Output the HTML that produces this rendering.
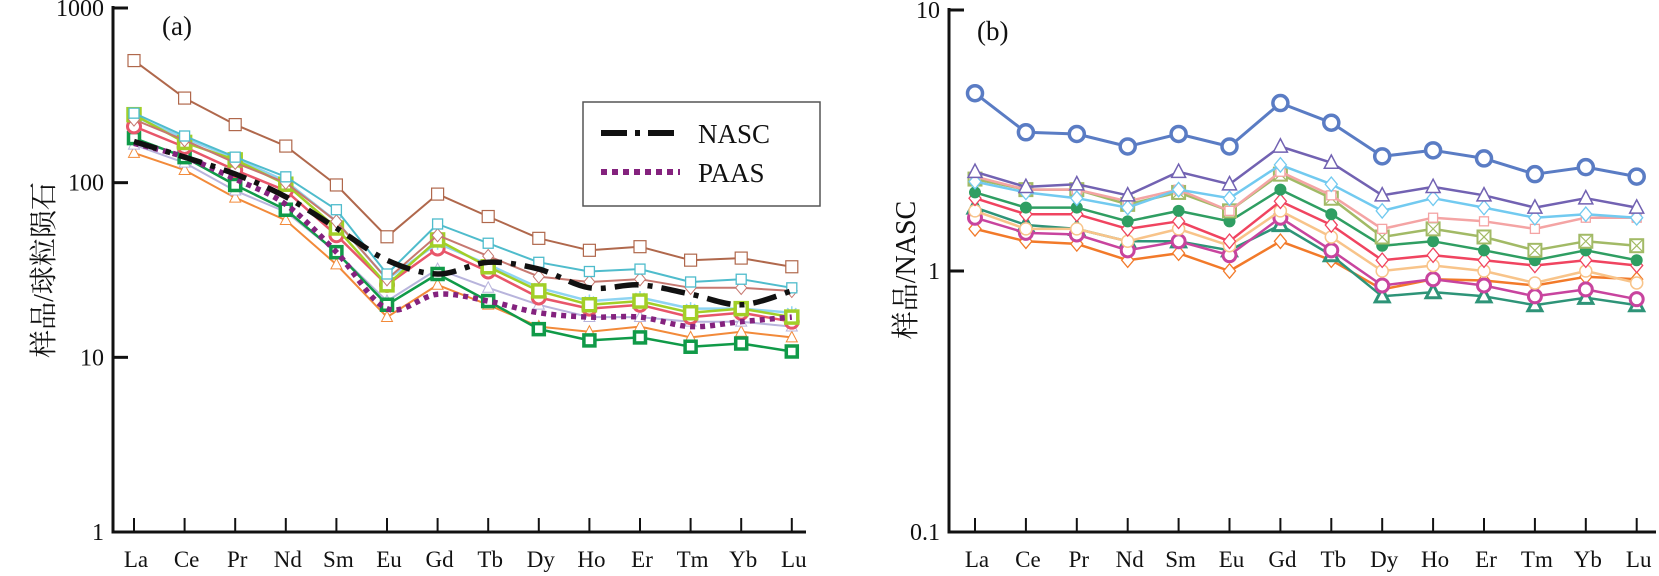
<!DOCTYPE html>
<html><head><meta charset="utf-8"><style>
html,body{margin:0;padding:0;background:#fff;}
svg{display:block;font-family:"Liberation Serif","Noto Serif CJK SC",serif;}
</style></head><body>
<svg id="chart" width="1659" height="576" viewBox="0 0 1659 576" xmlns="http://www.w3.org/2000/svg"></svg>
<script>
const categories=["La","Ce","Pr","Nd","Sm","Eu","Gd","Tb","Dy","Ho","Er","Tm","Yb","Lu"];
const leftTicks=[1,10,100,1000];
const rightTicks=[0.1,1,10];
const leftTickLabels=["1","10","100","1000"];
const rightTickLabels=["0.1","1","10"];
// left panel series (chondrite normalized)
const aBrown=[500,305,215,162,97,49,86,64,48,41,43,36,37,33];
const aCyan=[250,185,140,108,70,30,58,45,35,31,32,27,28,25];
const aRose=[230,175,130,100,60,28,50,38,29,27,28,25,25,24];
const aLime=[245,170,135,98,55,26,47,33,24,20,21,18,19,17];
const aSky=[240,180,138,102,60,28,45,34,25,21,22,19,19,18];
const aRed=[210,160,118,90,50,26,42,31,22,19,20,17,18,16];
const aGreen=[180,140,97,70,40,20,30,21,14.5,12.5,13,11.5,12,10.8];
const aLav=[165,130,90,68,40,21,32,25,20,17,17,16,16,15];
const aOrange=[148,118,82,61,34,17,26,20,15,14,15,13,14,13];
const nasc=[172,140,112,83,55,36,30,35,32,25,26,23,20,24];
const paas=[168,140,105,75,40,19,23,21,18,17,17,15,16,17];
// right panel series (NASC normalized)
const bBlue=[4.8,3.4,3.35,3.0,3.35,3.0,4.4,3.7,2.75,2.9,2.7,2.35,2.5,2.3];
const bPurple=[2.4,2.1,2.15,1.95,2.4,2.15,3.0,2.6,1.95,2.1,1.95,1.75,1.9,1.75];
const bSky=[2.2,2.0,1.9,1.75,2.05,1.9,2.55,2.15,1.7,1.9,1.75,1.6,1.65,1.6];
const bPink=[2.3,2.05,2.05,1.85,2.05,1.7,2.4,1.95,1.45,1.6,1.55,1.45,1.6,1.6];
const bOlive=[2.25,2.05,2.05,1.8,2.0,1.7,2.35,1.9,1.35,1.45,1.35,1.2,1.3,1.25];
const bGreen=[2.0,1.75,1.75,1.55,1.7,1.55,2.05,1.65,1.25,1.3,1.2,1.1,1.2,1.1];
const bRed=[1.9,1.65,1.65,1.45,1.55,1.3,1.85,1.5,1.1,1.15,1.1,1.05,1.1,1.05];
const bPeach=[1.7,1.45,1.45,1.3,1.45,1.25,1.7,1.35,1.0,1.05,1.0,0.9,1.0,0.9];
const bMagenta=[1.6,1.4,1.38,1.2,1.3,1.15,1.6,1.2,0.88,0.93,0.88,0.8,0.85,0.78];
const bTeal=[1.75,1.5,1.45,1.3,1.3,1.2,1.5,1.15,0.8,0.83,0.8,0.74,0.79,0.74];
const bOrange=[1.45,1.3,1.27,1.1,1.17,1.0,1.3,1.1,0.85,0.93,0.92,0.88,0.95,0.93];

const NS="http://www.w3.org/2000/svg";
const svg=document.getElementById('chart');
function mk(tag,attrs,parent){const e=document.createElementNS(NS,tag);for(const k in attrs)e.setAttribute(k,attrs[k]);(parent||svg).appendChild(e);return e;}

const P={
 a:{axX:113,axR:806,top:8,bot:532,min:0,max:3,x0:134,dx:50.6},
 b:{axX:949,axR:1656,top:10,bot:532,min:-1,max:1,x0:975,dx:50.9}
};
function xs(p,i){return p.x0+i*p.dx;}
function ys(p,v){return p.bot-(Math.log10(v)-p.min)/(p.max-p.min)*(p.bot-p.top);}

function axes(p,ticks,labels,title,tag,tagX){
 const g=mk('g',{});
 
 
 const ya=mk('line',{x1:p.axX,y1:p.top-2,x2:p.axX,y2:p.bot+1.5,stroke:'#111','stroke-width':3},g);
 
 
 const xa=mk('line',{x1:p.axX-1.5,y1:p.bot,x2:p.axR,y2:p.bot,stroke:'#111','stroke-width':3},g);
 
 
 ticks.forEach((t,i)=>{
  const y=ys(p,t);
  if(i>0){mk('line',{x1:p.axX,y1:y,x2:p.axX+15,y2:y,stroke:'#111','stroke-width':3},g);}
  const tx=mk('text',{x:p.axX-9,y:y+8,'text-anchor':'end','font-size':24,fill:'#111'},g);
  tx.textContent=labels[i];
  
  
 });
 categories.forEach((c,i)=>{
  const x=xs(p,i);
  mk('line',{x1:x,y1:p.bot,x2:x,y2:p.bot-14,stroke:'#111','stroke-width':2},g);
  const tx=mk('text',{x:x+2,y:p.bot+35,'text-anchor':'middle','font-size':23,fill:'#111'},g);
  tx.textContent=c;
  
  
 });
 const tt=mk('text',{x:0,y:0,'text-anchor':'middle','font-size':28,fill:'#111',transform:`translate(${title.x},${title.y}) rotate(-90)`},g);
 tt.textContent=title.t;
 
 
 const pl=mk('text',{x:tagX.x,y:tagX.y,'font-size':27,fill:'#111'},g);
 pl.textContent=tagX.t;
 
 
}
axes(P.a,leftTicks,leftTickLabels,{x:53,y:270,t:'样品/球粒陨石'},'panel-a',{x:162,y:35,t:'(a)'});
axes(P.b,rightTicks,rightTickLabels,{x:915,y:270,t:'样品/NASC'},'panel-b',{x:977,y:40,t:'(b)'});

function marker(g,shape,x,y,color,r,sw,fill){
 if(shape==='sq')mk('rect',{x:x-r,y:y-r,width:2*r,height:2*r,fill:fill,stroke:color,'stroke-width':sw},g);
 else if(shape==='sqx'){mk('rect',{x:x-r,y:y-r,width:2*r,height:2*r,fill:'#fff',stroke:color,'stroke-width':sw},g);mk('path',{d:`M${x-r} ${y-r}L${x+r} ${y+r}M${x+r} ${y-r}L${x-r} ${y+r}`,stroke:color,'stroke-width':1.2},g);}
 else if(shape==='ci')mk('circle',{cx:x,cy:y,r:r,fill:fill,stroke:color,'stroke-width':sw},g);
 else if(shape==='tr')mk('path',{d:`M${x} ${y-r*1.1}L${x+r} ${y+r*0.8}L${x-r} ${y+r*0.8}Z`,fill:fill,stroke:color,'stroke-width':sw},g);
 else if(shape==='di')mk('path',{d:`M${x} ${y-r*1.2}L${x+r} ${y}L${x} ${y+r*1.2}L${x-r} ${y}Z`,fill:fill,stroke:color,'stroke-width':sw},g);
 else if(shape==='st'){mk('path',{d:`M${x-r} ${y}L${x+r} ${y}M${x} ${y-r}L${x} ${y+r}M${x-r*0.7} ${y-r*0.7}L${x+r*0.7} ${y+r*0.7}M${x+r*0.7} ${y-r*0.7}L${x-r*0.7} ${y+r*0.7}`,stroke:color,'stroke-width':1.5},g);}
}
function series(p,vals,name,color,lw,shape,r,msw,fill){
 const g=mk('g',{});
 
 
 const pts=vals.map((v,i)=>xs(p,i).toFixed(1)+','+ys(p,v).toFixed(1)).join(' ');
 mk('polyline',{points:pts,fill:'none',stroke:color,'stroke-width':lw,'stroke-linejoin':'round'},g);
 vals.forEach((v,i)=>marker(g,shape,xs(p,i),ys(p,v),color,r,msw,fill||'#fff'));
}
function smooth(p,vals,name,color,lw,dash,cap){
 const pts=vals.map((v,i)=>[xs(p,i),ys(p,v)]);
 let d=`M${pts[0][0]} ${pts[0][1]}`;
 for(let i=0;i<pts.length-1;i++){
  const p0=pts[Math.max(0,i-1)],p1=pts[i],p2=pts[i+1],p3=pts[Math.min(pts.length-1,i+2)];
  const c1=[p1[0]+(p2[0]-p0[0])/6,p1[1]+(p2[1]-p0[1])/6],c2=[p2[0]-(p3[0]-p1[0])/6,p2[1]-(p3[1]-p1[1])/6];
  d+=`C${c1[0].toFixed(1)} ${c1[1].toFixed(1)} ${c2[0].toFixed(1)} ${c2[1].toFixed(1)} ${p2[0].toFixed(1)} ${p2[1].toFixed(1)}`;
 }
 const e=mk('path',{d:d,fill:'none',stroke:color,'stroke-width':lw,'stroke-dasharray':dash,'stroke-linecap':cap||'butt'});
 
 
}
const A=P.a;
series(A,aOrange,'series-orange-triangle','#f28a3a',2,'tr',5.5,1,'#fff');
series(A,aLav,'series-lavender-triangle','#b8b4dc',2,'tr',5.5,1,'#fff');
series(A,aGreen,'series-green-square','#109a48',2.5,'sq',5.5,3.5,'#fff');
series(A,aRed,'series-red-circle','#e8566a',2.5,'ci',6.5,3,'#fff');
series(A,aSky,'series-skyblue-star','#8fd4f2',2.5,'st',6.5,1.5,'#fff');
series(A,aLime,'series-lime-square','#a2cf28',2.5,'sq',6,3.5,'#fff');
series(A,aRose,'series-rose-diamond','#c67870',2,'di',5.5,1,'#fff');
series(A,aCyan,'series-cyan-square','#4fbccc',2,'sq',5,1.3,'#fff');
series(A,aBrown,'series-brown-square','#b0684c',2,'sq',6,1.2,'#fff');
smooth(A,paas,'paas-line','#84227e',5.5,'5 5');
smooth(A,nasc,'nasc-line','#111',5.5,'24 9 5 9');

const B=P.b;
series(B,bOrange,'series-orange-diamond','#f27a2a',2.5,'di',6,1.3,'#fff');
series(B,bTeal,'series-teal-triangle','#2e9478',2.5,'tr',7,3,'#fff');
series(B,bMagenta,'series-magenta-circle','#c8449e',2.5,'ci',6.5,3,'#fff');
series(B,bPeach,'series-peach-circle','#f8c48a',2.5,'ci',6,1.5,'#fff');
series(B,bRed,'series-red-diamond','#f04460',2.5,'di',6,1.3,'#fff');
series(B,bGreen,'series-green-dot','#2f9e62',2.5,'ci',5.5,1,'#2f9e62');
series(B,bOlive,'series-olive-xsquare','#a2ba66',2.5,'sqx',6.5,2,'#fff');
series(B,bPink,'series-pink-square','#f4a4a4',2.5,'sq',4.5,1.3,'#fff');
series(B,bSky,'series-skyblue-diamond','#72caf0',2.5,'di',6,1.3,'#fff');
series(B,bPurple,'series-purple-triangle','#7262b2',2.5,'tr',7,1.5,'#fff');
series(B,bBlue,'series-blue-circle','#5a7cc4',3,'ci',7.5,3.5,'#fff');

// legend
const lg=mk('g',{});


mk('rect',{x:583,y:102,width:237,height:104,fill:'#fff',stroke:'#555','stroke-width':1.5},lg);
mk('line',{x1:601,y1:133,x2:680,y2:133,stroke:'#111','stroke-width':6,'stroke-dasharray':'26 8 5 8'},lg);
mk('line',{x1:601,y1:172,x2:680,y2:172,stroke:'#84227e','stroke-width':6,'stroke-dasharray':'6 5'},lg);
const t1=mk('text',{x:698,y:143,'font-size':27,fill:'#111'},lg);t1.textContent='NASC';


const t2=mk('text',{x:698,y:182,'font-size':27,fill:'#111'},lg);t2.textContent='PAAS';


</script>
</body></html>
